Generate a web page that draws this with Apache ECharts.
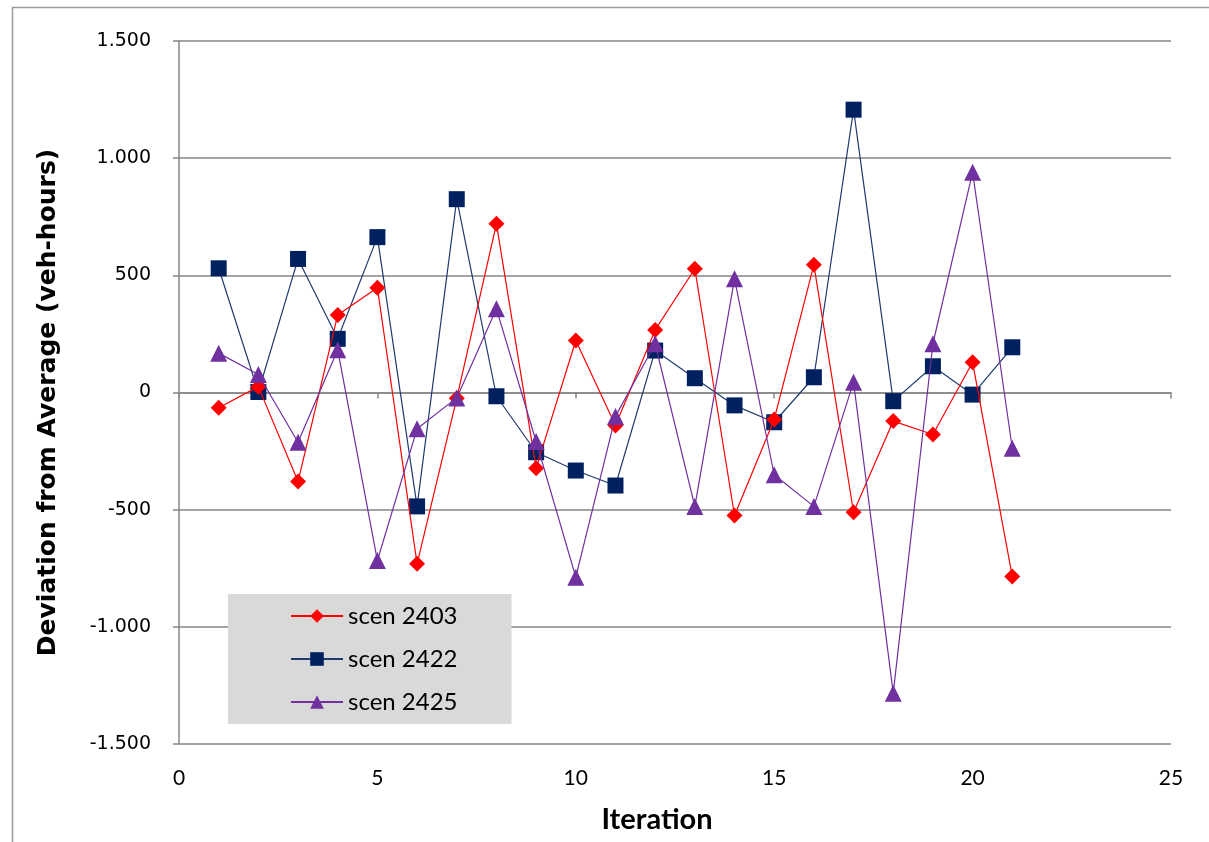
<!DOCTYPE html>
<html>
<head>
<meta charset="utf-8">
<script src="https://cdn.jsdelivr.net/npm/echarts@6/dist/echarts.min.js"></script>
<style>html,body{margin:0;padding:0;background:#fff}#c{width:1209px;height:842px}</style>
</head>
<body>
<div id="c"></div>
<script>
var iterations = [1,2,3,4,5,6,7,8,9,10,11,12,13,14,15,16,17,18,19,20,21];
var scen2403 = [-65,25,-380,331,447,-731,-25,720,-323,222,-141,267,528,-525,-115,545,-511,-122,-179,129,-785];
var scen2422 = [530,2,570,229,663,-486,825,-16,-255,-333,-397,179,61,-55,-127,65,1207,-37,112,-9,193];
var scen2425 = [168,77,-212,182,-717,-155,-23,357,-209,-788,-102,208,-486,485,-351,-486,44,-1283,208,940,-238];
var seriesNames = ['scen 2403','scen 2422','scen 2425'];

function pairs(vals){ return vals.map(function(v,i){ return [iterations[i], v]; }); }
function fmt(v){
  var s = Math.abs(v).toString().replace(/\B(?=(\d{3})+(?!\d))/g, '.');
  return (v < 0 ? '-' : '') + s;
}
var chart = echarts.init(document.getElementById('c'));
var cal = 'Lato,"Open Sans",sans-serif';
chart.setOption({
  animation: false,
  backgroundColor: '#fff',
  graphic: [{
    type: 'rect', left: 10, top: 5, shape: {width: 1400, height: 1000},
    style: {fill: 'none', stroke: '#9a9a9a', lineWidth: 1.5}, silent: true, z: -1
  }],
  grid: {left: 179, right: 38, top: 41, bottom: 98},
  xAxis: {
    type: 'value', min: 0, max: 25, interval: 5,
    name: 'Iteration', nameLocation: 'middle', nameGap: 61,
    nameTextStyle: {fontFamily: cal, fontWeight: 'bold', fontSize: 29, color: '#000', padding: [0, 36, 0, 0]},
    axisLine: {show: true, lineStyle: {color: '#868686', width: 1.5}},
    axisTick: {show: true, length: 6, lineStyle: {color: '#868686', width: 1.5}},
    axisLabel: {fontFamily: cal, fontSize: 21, color: '#000', margin: 24},
    splitLine: {show: false}
  },
  yAxis: {
    type: 'value', min: -1500, max: 1500, interval: 500,
    name: 'Deviation from Average (veh-hours)', nameLocation: 'middle', nameGap: 118,
    nameTextStyle: {fontFamily: '"DejaVu Sans",sans-serif', fontWeight: 'bold', fontSize: 25, color: '#000', padding: [0, 20, 0, 0]},
    axisLine: {show: true, onZero: false, lineStyle: {color: '#868686', width: 1.5}},
    axisTick: {show: true, length: 6, lineStyle: {color: '#868686', width: 1.5}},
    axisLabel: {fontFamily: '"DejaVu Sans",sans-serif', fontSize: 19, color: '#000', margin: 28, formatter: fmt},
    splitLine: {show: true, lineStyle: {color: '#868686', width: 1.5}}
  },
  legend: {
    orient: 'vertical', left: 228, top: 594,
    backgroundColor: '#d9d9d9',
    padding: [10, 54, 10, 62],
    itemGap: 19, itemWidth: 52, itemHeight: 17,
    textStyle: {fontFamily: cal, fontSize: 24, color: '#000'},
    data: seriesNames
  },
  series: [
    {name: seriesNames[0], type: 'line', data: pairs(scen2403), symbol: 'diamond', symbolSize: 16,
     lineStyle: {color: '#ff0000', width: 1.2}, itemStyle: {color: '#ff0000'}, z: 3},
    {name: seriesNames[1], type: 'line', data: pairs(scen2422), symbol: 'rect', symbolSize: 16,
     lineStyle: {color: '#1f3a6e', width: 1.2}, itemStyle: {color: '#002060'}, z: 2},
    {name: seriesNames[2], type: 'line', data: pairs(scen2425), symbol: 'triangle', symbolSize: 17,
     lineStyle: {color: '#7030a0', width: 1.2}, itemStyle: {color: '#7030a0'}, z: 4}
  ]
});
</script>
</body>
</html>
